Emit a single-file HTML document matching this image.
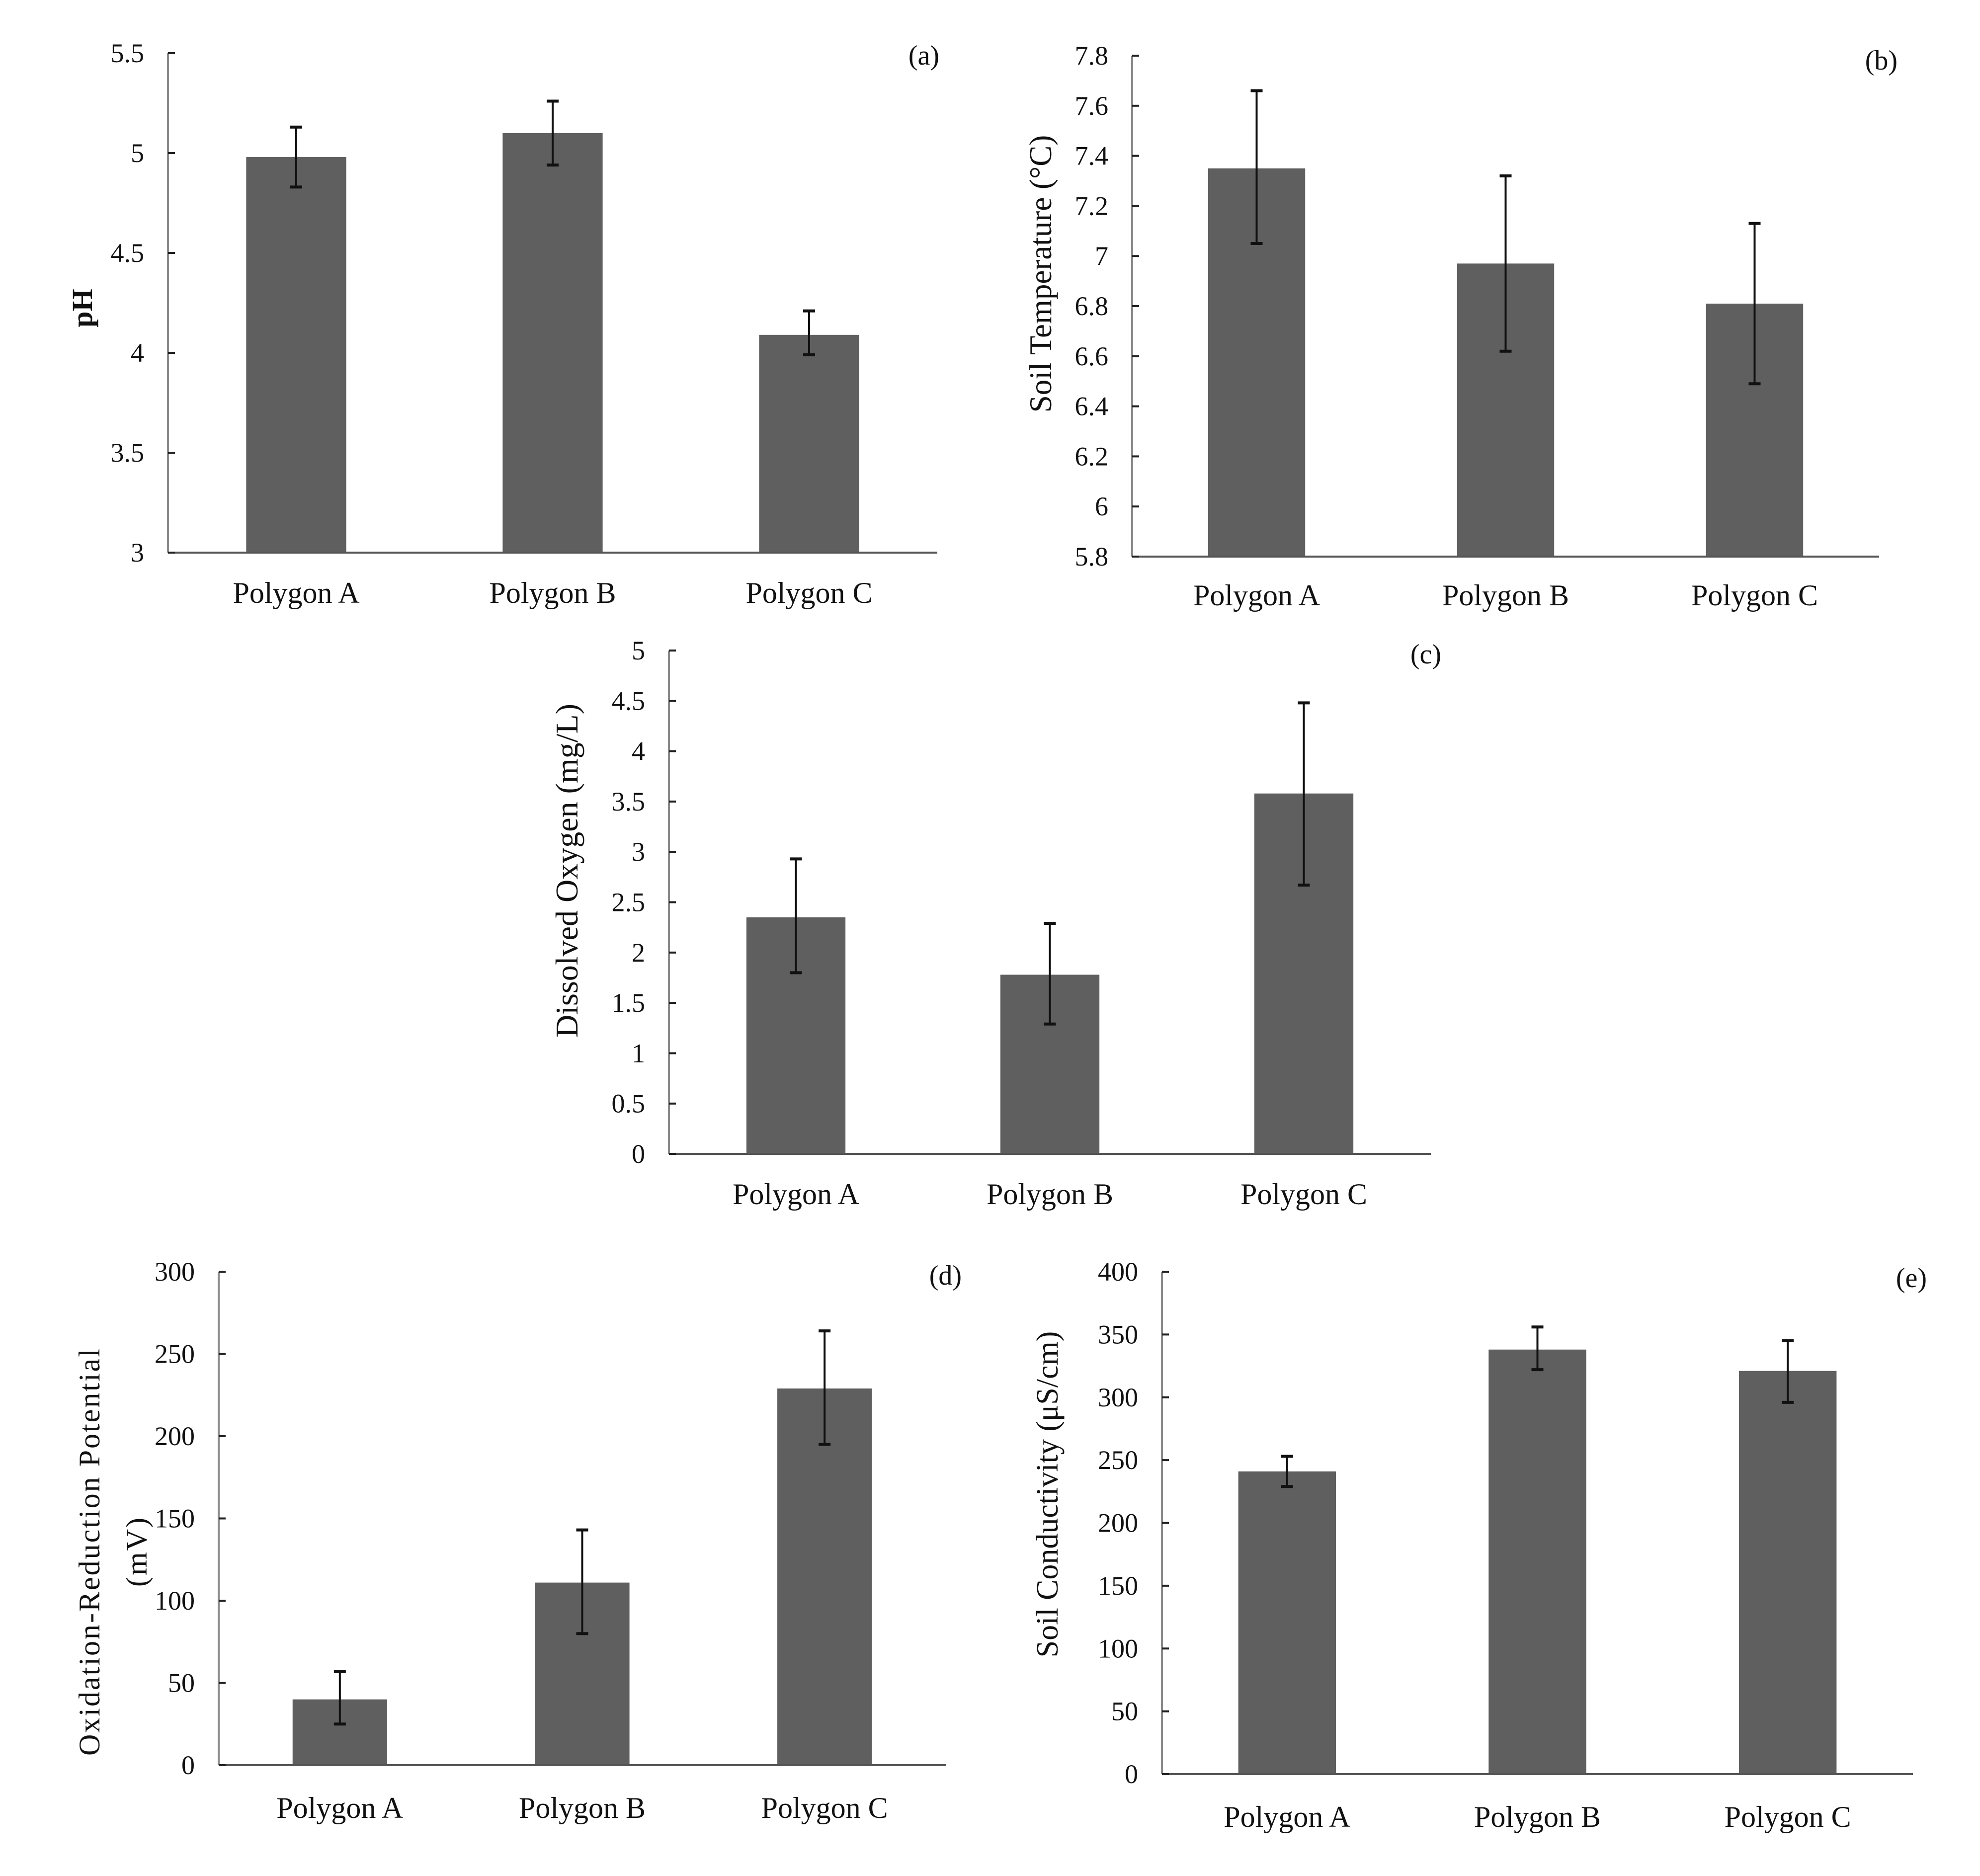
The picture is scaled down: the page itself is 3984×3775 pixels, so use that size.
<!DOCTYPE html>
<html><head><meta charset="utf-8"><style>
html,body{margin:0;padding:0;background:#fff}
svg{display:block}
text{font-family:"Liberation Serif",serif;fill:#111}
</style></head><body>
<svg id="fig" width="3984" height="3775" viewBox="0 0 3984 3775" xmlns="http://www.w3.org/2000/svg"></svg>
<script>
const categories = ["Polygon A","Polygon B","Polygon C"];
// (a) pH
const phValues = [4.98, 5.10, 4.09];
const phLow = [4.83, 4.94, 3.99];
const phHigh = [5.13, 5.26, 4.21];
const phTicks = [3, 3.5, 4, 4.5, 5, 5.5];
const phTickLabels = ["3","3.5","4","4.5","5","5.5"];
// (b) soil temperature
const tempValues = [7.35, 6.97, 6.81];
const tempLow = [7.05, 6.62, 6.49];
const tempHigh = [7.66, 7.32, 7.13];
const tempTicks = [5.8, 6, 6.2, 6.4, 6.6, 6.8, 7, 7.2, 7.4, 7.6, 7.8];
const tempTickLabels = ["5.8","6","6.2","6.4","6.6","6.8","7","7.2","7.4","7.6","7.8"];
// (c) dissolved oxygen
const doValues = [2.35, 1.78, 3.58];
const doLow = [1.80, 1.29, 2.67];
const doHigh = [2.93, 2.29, 4.48];
const doTicks = [0, 0.5, 1, 1.5, 2, 2.5, 3, 3.5, 4, 4.5, 5];
const doTickLabels = ["0","0.5","1","1.5","2","2.5","3","3.5","4","4.5","5"];
// (d) ORP
const orpValues = [40, 111, 229];
const orpLow = [25, 80, 195];
const orpHigh = [57, 143, 264];
const orpTicks = [0, 50, 100, 150, 200, 250, 300];
const orpTickLabels = ["0","50","100","150","200","250","300"];
// (e) conductivity
const condValues = [241, 338, 321];
const condLow = [229, 322, 296];
const condHigh = [253, 356, 345];
const condTicks = [0, 50, 100, 150, 200, 250, 300, 350, 400];
const condTickLabels = ["0","50","100","150","200","250","300","350","400"];

const NS = "http://www.w3.org/2000/svg";
const svg = document.getElementById("fig");
function mk(tag, attrs, parent, text){
  const e = document.createElementNS(NS, tag);
  for (const k in attrs) e.setAttribute(k, attrs[k]);
  if (text !== undefined) e.textContent = text;
  parent.appendChild(e);
  return e;
}
function panel(p){
  const g = mk("g", {}, svg);
  
  
  const ymin = p.ticks[0], ymax = p.ticks[p.ticks.length-1];
  const yS = v => p.bottom - (v - ymin) / (ymax - ymin) * (p.bottom - p.top);
  const band = (p.right - p.left) / p.cats.length;
  const xS = i => p.left + band * (i + 0.5);
  const bw = band * 0.39;
  p.values.forEach((v, i) => {
    const r = mk("rect", {x: xS(i) - bw/2, y: yS(v), width: bw, height: p.bottom - yS(v), fill: "#5f5f5f"}, g);
    
    
    const eg = mk("g", {stroke: "#111", "stroke-width": 4}, g);
    
    
    const x = xS(i);
    mk("line", {x1: x, x2: x, y1: yS(p.low[i]), y2: yS(p.high[i])}, eg);
    mk("line", {x1: x - 12, x2: x + 12, y1: yS(p.low[i]), y2: yS(p.low[i]), "stroke-width": 6}, eg);
    mk("line", {x1: x - 12, x2: x + 12, y1: yS(p.high[i]), y2: yS(p.high[i]), "stroke-width": 6}, eg);
  });
  const ya = mk("line", {x1: p.left, x2: p.left, y1: p.top, y2: p.bottom, stroke: "#8a8a8a", "stroke-width": 4}, g);
  
  
  const xa = mk("line", {x1: p.left, x2: p.right, y1: p.bottom, y2: p.bottom, stroke: "#555", "stroke-width": 4}, g);
  
  
  p.ticks.forEach((t, i) => {
    const y = yS(t);
    mk("line", {x1: p.left, x2: p.left + 14, y1: y, y2: y, stroke: "#222", "stroke-width": 4}, g);
    const tl = mk("text", {x: p.left - 48, y: y + 18, "text-anchor": "end", "font-size": 54}, g, p.tickLabels[i]);
    
    
  });
  p.cats.forEach((c, i) => {
    const cl = mk("text", {x: xS(i), y: p.catY, "text-anchor": "middle", "font-size": 60}, g, c);
    
    
  });
  const pl = mk("text", {x: p.tagX, y: p.tagY, "text-anchor": "end", "font-size": 56}, g, p.tag);
  
  
  p.titleLines.forEach((line, j) => {
    const tx = p.titleX + j * 95;
    const t = mk("text", {x: tx, y: p.titleY, "text-anchor": "middle", "font-size": p.titleSize,
      transform: "rotate(-90 " + tx + " " + p.titleY + ")", "font-weight": p.titleBold ? "bold" : "normal",
      "letter-spacing": p.titleSpacing || 0}, g, line);
    
    
  });
}
panel({name:"ph-chart", key:"ph", values:phValues, low:phLow, high:phHigh, ticks:phTicks, tickLabels:phTickLabels, cats:categories,
  left:338, right:1886, top:107, bottom:1112, catY:1213, tag:"(a)", tagX:1890, tagY:130,
  titleLines:["pH"], titleX:185, titleY:620, titleSize:58, titleBold:true});
panel({name:"soil-temperature-chart", key:"temp", values:tempValues, low:tempLow, high:tempHigh, ticks:tempTicks, tickLabels:tempTickLabels, cats:categories,
  left:2278, right:3781, top:112, bottom:1120, catY:1218, tag:"(b)", tagX:3818, tagY:140,
  titleLines:["Soil Temperature (°C)"], titleX:2115, titleY:551, titleSize:63});
panel({name:"dissolved-oxygen-chart", key:"do", values:doValues, low:doLow, high:doHigh, ticks:doTicks, tickLabels:doTickLabels, cats:categories,
  left:1346, right:2879, top:1309, bottom:2322, catY:2423, tag:"(c)", tagX:2900, tagY:1335,
  titleLines:["Dissolved Oxygen (mg/L)"], titleX:1162, titleY:1752, titleSize:64});
panel({name:"orp-chart", key:"orp", values:orpValues, low:orpLow, high:orpHigh, ticks:orpTicks, tickLabels:orpTickLabels, cats:categories,
  left:440, right:1903, top:2559, bottom:3552, catY:3658, tag:"(d)", tagX:1935, tagY:2585,
  titleLines:["Oxidation-Reduction Potential","(mV)"], titleX:200, titleY:3122, titleSize:60, titleSpacing:3});
panel({name:"soil-conductivity-chart", key:"cond", values:condValues, low:condLow, high:condHigh, ticks:condTicks, tickLabels:condTickLabels, cats:categories,
  left:2338, right:3849, top:2559, bottom:3570, catY:3676, tag:"(e)", tagX:3877, tagY:2590,
  titleLines:["Soil Conductivity (μS/cm)"], titleX:2128, titleY:3007, titleSize:62});
</script>
</body></html>
